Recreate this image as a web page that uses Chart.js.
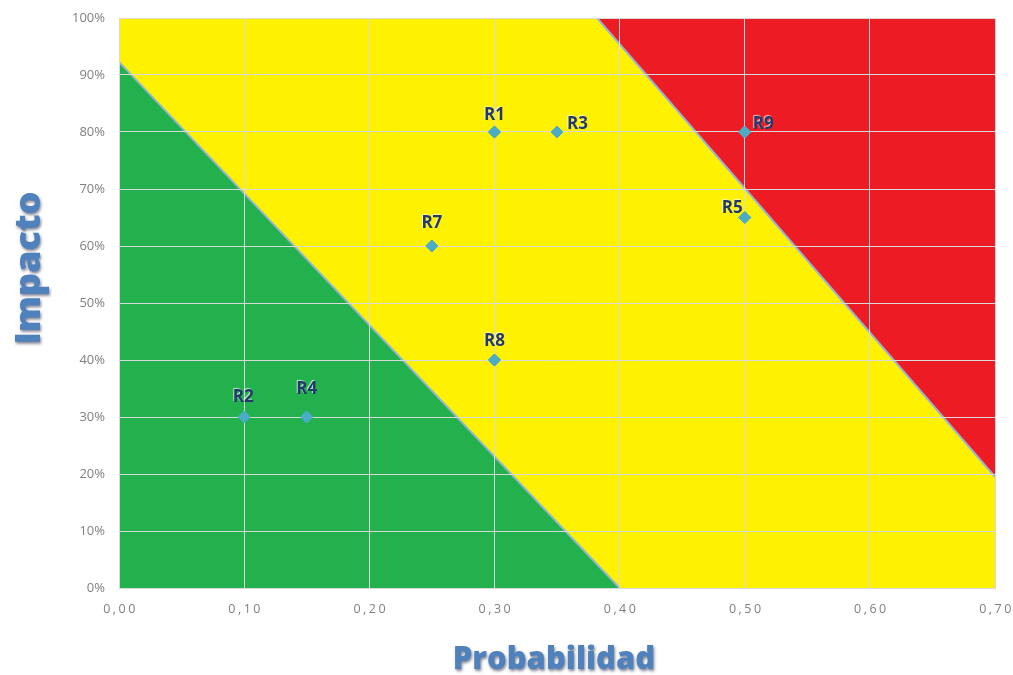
<!DOCTYPE html>
<html lang="es">
<head>
<meta charset="utf-8">
<title>Matriz de riesgos</title>
<script src="https://cdn.jsdelivr.net/npm/chart.js@4/dist/chart.umd.min.js"></script>
<style>
  html, body { margin: 0; padding: 0; background: #ffffff; }
  #matriz { display: block; }
</style>
</head>
<body>
<canvas id="matriz" width="1013" height="675"></canvas>
<script>
// Riesgos identificados
const riesgos = ['R1', 'R2', 'R3', 'R4', 'R5', 'R7', 'R8', 'R9'];
const probabilidad = [0.30, 0.10, 0.35, 0.15, 0.50, 0.25, 0.30, 0.50];
const impacto = [0.80, 0.30, 0.80, 0.30, 0.65, 0.60, 0.40, 0.80];

// Límites de las zonas de riesgo (probabilidad, impacto)
const zonaBajaX = [0.00, 0.40];
const zonaBajaY = [0.923, 0.00];
const zonaAltaX = [0.382, 0.70];
const zonaAltaY = [1.00, 0.195];
const zonaMediaX = [0.00, 0.70];
const zonaMediaY = [1.00, 1.00];

// Marcas de los ejes
const ticksX = [0.00, 0.10, 0.20, 0.30, 0.40, 0.50, 0.60, 0.70];
const ticksY = [0, 0.1, 0.2, 0.3, 0.4, 0.5, 0.6, 0.7, 0.8, 0.9, 1.0];

const toPoints = (xs, ys) => xs.map((x, i) => ({ x: x, y: ys[i] }));

// Posición de cada etiqueta respecto a su punto: [dx, dy, alineación]
const posEtiqueta = {
  R1: [0, -17, 'center'],
  R2: [-1, -20, 'center'],
  R3: [10, -8, 'left'],
  R4: [0, -28, 'center'],
  R5: [-2, -9, 'right'],
  R7: [0, -23, 'center'],
  R8: [0, -19, 'center'],
  R9: [8, -8, 'left']
};

// Espaciado entre caracteres de las marcas del eje X
const espaciadoEjeX = {
  id: 'espaciadoEjeX',
  beforeDraw(chart) {
    const sx = chart.scales.x;
    if (sx._conEspaciado) return;
    const original = sx.drawLabels.bind(sx);
    sx.drawLabels = function (area) {
      const ctx = this.ctx;
      ctx.save();
      ctx.letterSpacing = '2.5px';
      ctx.translate(1.5, 0);
      original(area);
      ctx.restore();
    };
    sx._conEspaciado = true;
  }
};

// Puntos por encima de la cuadrícula, etiquetas y títulos de los ejes
const etiquetasYTitulos = {
  id: 'etiquetasYTitulos',
  afterDraw(chart) {
    const ctx = chart.ctx;
    const meta = chart.getDatasetMeta(0);
    ctx.save();
    meta.controller.draw();
    ctx.restore();

    ctx.save();
    ctx.font = 'bold 17px "Open Sans", sans-serif';
    ctx.textBaseline = 'middle';
    meta.data.forEach((pt, i) => {
      const nombre = riesgos[i];
      const [dx, dy, al] = posEtiqueta[nombre];
      ctx.textAlign = al;
      ctx.shadowColor = 'rgba(255,255,255,0.7)';
      ctx.shadowBlur = 1;
      ctx.shadowOffsetX = -1;
      ctx.shadowOffsetY = -1;
      ctx.fillStyle = '#22396a';
      ctx.fillText(nombre, pt.x + dx, pt.y + dy);
    });
    ctx.restore();

    ctx.save();
    ctx.fillStyle = '#4f81bd';
    ctx.shadowColor = 'rgba(20,30,60,0.55)';
    ctx.shadowBlur = 3;
    ctx.shadowOffsetX = 1;
    ctx.shadowOffsetY = 2;
    ctx.textAlign = 'center';
    ctx.textBaseline = 'middle';
    ctx.font = '800 31px "Open Sans", sans-serif';
    ctx.fillText('Probabilidad', 554, 660);
    ctx.translate(30, 268);
    ctx.rotate(-Math.PI / 2);
    ctx.font = '800 36px "Open Sans", sans-serif';
    ctx.fillText('Impacto', 0, 0);
    ctx.restore();
  }
};

const bordeZona = 'rgba(150,180,215,1)';

new Chart(document.getElementById('matriz'), {
  type: 'scatter',
  data: {
    datasets: [
      {
        label: 'Riesgos',
        data: toPoints(probabilidad, impacto),
        pointStyle: 'rectRot',
        radius: 6,
        hoverRadius: 6,
        backgroundColor: '#4bacc6',
        borderColor: '#4bacc6',
        borderWidth: 1,
        showLine: false
      },
      {
        label: 'Zona baja',
        data: toPoints(zonaBajaX, zonaBajaY),
        showLine: true,
        fill: 'start',
        backgroundColor: '#22b14c',
        borderColor: bordeZona,
        borderWidth: 2,
        pointRadius: 0
      },
      {
        label: 'Zona alta',
        data: toPoints(zonaAltaX, zonaAltaY),
        showLine: true,
        fill: 'end',
        backgroundColor: '#ed1c24',
        borderColor: bordeZona,
        borderWidth: 2,
        pointRadius: 0
      },
      {
        label: 'Zona media',
        data: toPoints(zonaMediaX, zonaMediaY),
        showLine: true,
        fill: 'start',
        backgroundColor: '#fff200',
        borderColor: 'rgba(0,0,0,0)',
        borderWidth: 0,
        pointRadius: 0
      }
    ]
  },
  options: {
    responsive: false,
    devicePixelRatio: 1,
    animation: false,
    events: [],
    layout: { padding: { left: 0, top: 18, right: 18, bottom: 0 } },
    plugins: {
      legend: { display: false },
      tooltip: { enabled: false },
      title: { display: false }
    },
    scales: {
      x: {
        type: 'linear',
        min: 0,
        max: 0.70,
        afterBuildTicks(scale) { scale.ticks = ticksX.map(v => ({ value: v })); },
        afterFit(scale) {
          scale.height = 87;
          scale.paddingLeft = 0;
          scale.paddingRight = 0;
        },
        grid: { color: '#d9d9d9', lineWidth: 1, drawTicks: false, z: 1 },
        border: { color: '#d9d9d9', z: 1 },
        ticks: {
          padding: 14,
          color: '#7f7f7f',
          font: { family: '"Open Sans", sans-serif', size: 12.5 },
          callback: v => v.toFixed(2).replace('.', ',')
        }
      },
      y: {
        type: 'linear',
        min: 0,
        max: 1,
        afterBuildTicks(scale) { scale.ticks = ticksY.map(v => ({ value: v })); },
        afterFit(scale) {
          scale.width = 119;
          scale.paddingTop = 0;
          scale.paddingBottom = 0;
        },
        grid: { color: '#d9d9d9', lineWidth: 1, drawTicks: false, z: 1 },
        border: { color: '#d9d9d9', z: 1 },
        ticks: {
          padding: 14,
          color: '#7f7f7f',
          font: { family: '"Open Sans", sans-serif', size: 13 },
          callback: v => Math.round(v * 100) + '%'
        }
      }
    }
  },
  plugins: [espaciadoEjeX, etiquetasYTitulos]
});
</script>
</body>
</html>
